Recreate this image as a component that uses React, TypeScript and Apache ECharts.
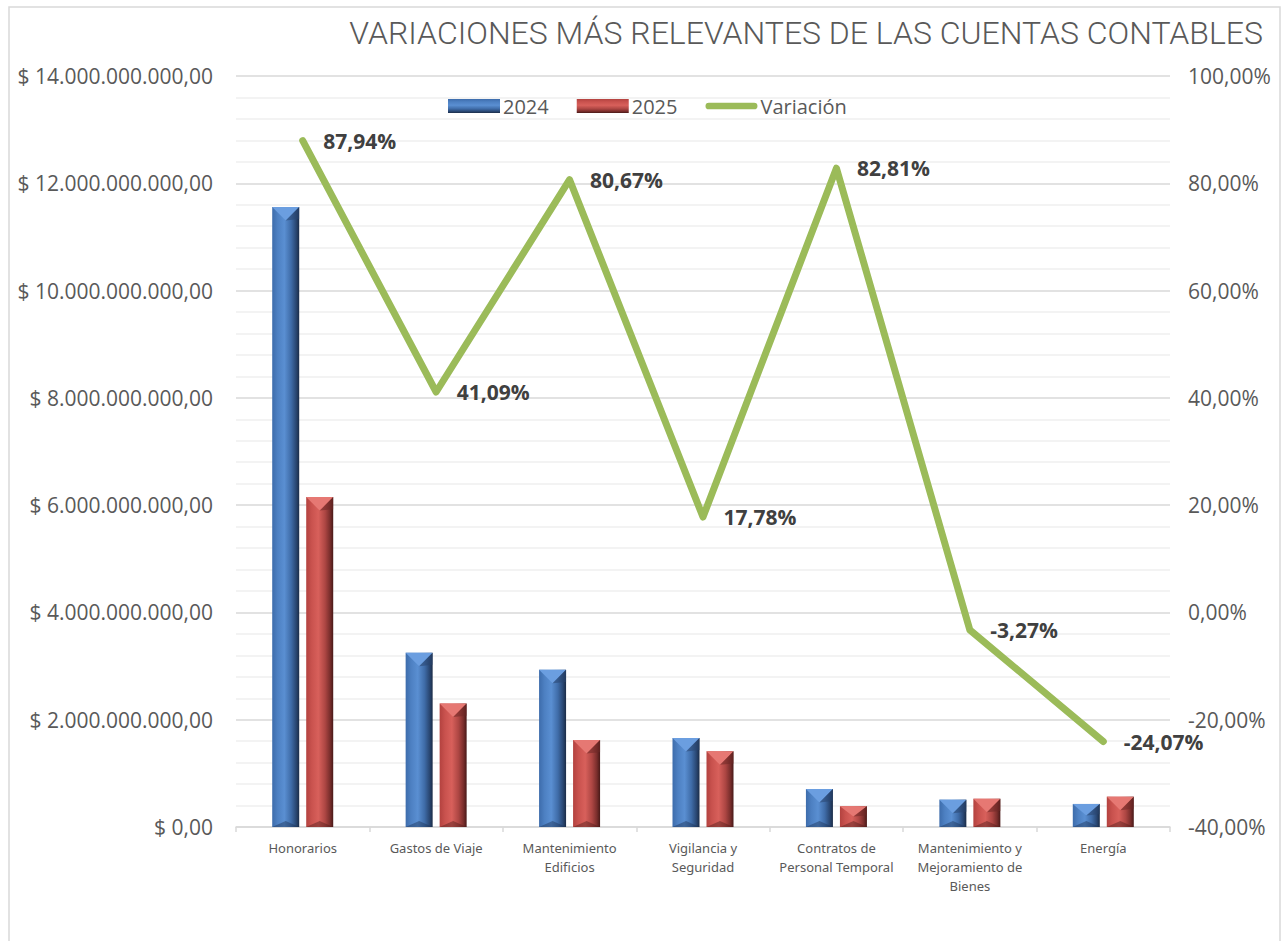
import React, { useEffect, useRef } from "react";
import * as echarts from "echarts";

const categories = [
  "Honorarios",
  "Gastos de Viaje",
  "Mantenimiento\nEdificios",
  "Vigilancia y\nSeguridad",
  "Contratos de\nPersonal Temporal",
  "Mantenimiento y\nMejoramiento de\nBienes",
  "Energía",
];
const values2024 = [11560000000, 3250000000, 2930000000, 1660000000, 710000000, 510000000, 430000000];
const values2025 = [6150000000, 2300000000, 1620000000, 1410000000, 388000000, 527000000, 566000000];
const variation = [87.94, 41.09, 80.67, 17.78, 82.81, -3.27, -24.07];

const fmtMoney = (v: number) => {
  const s = Math.round(v).toString().replace(/\B(?=(\d{3})+(?!\d))/g, ".");
  return "$ " + s + ",00";
};
const fmtPct = (v: number) => v.toFixed(2).replace(".", ",") + "%";

const BAR_W = 27;
const BAR_GAP = 7;

const grad = (stops: [number, string][], vertical = false) =>
  new echarts.graphic.LinearGradient(0, 0, vertical ? 0 : 1, vertical ? 1 : 0, stops.map(([offset, color]) => ({ offset, color })));

const blueStops: [number, string][] = [
  [0, "#3d6cab"],
  [0.2, "#4d80c2"],
  [0.45, "#5a8fd2"],
  [0.7, "#3f6ca8"],
  [0.88, "#2a4874"],
  [1, "#1b2c47"],
];
const redStops: [number, string][] = [
  [0, "#b3423f"],
  [0.2, "#c9524e"],
  [0.45, "#d8605b"],
  [0.7, "#ad4643"],
  [0.88, "#7a2e2c"],
  [1, "#481918"],
];
const blueGrad = grad(blueStops);
const redGrad = grad(redStops);
const blueLegend = grad(blueStops, true);
const redLegend = grad(redStops, true);

const bevel = (offset: number, light: string, dark: string, side: string) => (params: any, api: any) => {
  const idx = api.value(0);
  const val = api.value(1);
  const top = api.coord([idx, val]);
  const base = api.coord([idx, 0]);
  const cx = top[0] + offset;
  const w = BAR_W;
  const h = base[1] - top[1];
  const b = Math.min(w / 2, h / 2);
  const l = cx - w / 2;
  const r = cx + w / 2;
  const t = top[1];
  const bt = base[1];
  return {
    type: "group",
    children: [
      {
        type: "polygon",
        shape: { points: [[l, t], [r, t], [cx, t + b]] },
        style: { fill: light },
      },
      {
        type: "polygon",
        shape: { points: [[r, t], [cx, t + b], [r, t + b * 0.9]] },
        style: { fill: side, opacity: 0.55 },
      },
      {
        type: "polygon",
        shape: { points: [[l, bt], [r, bt], [cx, bt - Math.min(b, 6)]] },
        style: { fill: dark, opacity: 0.45 },
      },
    ],
  };
};

export default function App() {
  const ref = useRef<HTMLDivElement>(null);
  useEffect(() => {
    if (!ref.current) return;
    const chart = echarts.init(ref.current, null, { renderer: "svg" });
    const off = (BAR_W + BAR_GAP) / 2;
    chart.setOption({
      animation: false,
      backgroundColor: "#ffffff",
      textStyle: { fontFamily: "Open Sans" },
      graphic: [
        {
          type: "rect",
          shape: { x: 9, y: 7, width: 1271, height: 960 },
          style: { fill: "none", stroke: "#d9d9d9", lineWidth: 1.5 },
          silent: true,
        },
      ],
      title: {
        text: "VARIACIONES MÁS RELEVANTES DE LAS CUENTAS CONTABLES",
        right: 18,
        top: 12,
        textStyle: { fontFamily: "Roboto", fontWeight: 300, fontSize: 32, color: "#595959" },
      },
      legend: {
        left: 443,
        top: 91,
        itemGap: 28,
        itemWidth: 52,
        itemHeight: 14,
        textStyle: { fontFamily: "Open Sans", fontSize: 20, color: "#595959", padding: [0, 0, 0, -2] },
        data: [
          { name: "2024", icon: "rect", itemStyle: { color: blueLegend } },
          { name: "2025", icon: "rect", itemStyle: { color: redLegend } },
          {
            name: "Variación",
            icon: "path://M3.5,0 L50.5,0 A3.5,3.5 0 0 1 50.5,7 L3.5,7 A3.5,3.5 0 0 1 3.5,0 Z",
            itemStyle: { color: "#9bbb59" },
          },
        ],
      },
      grid: { left: 236, right: 116, top: 76, bottom: 114, containLabel: false },
      xAxis: {
        type: "category",
        data: categories,
        axisLine: { lineStyle: { color: "#d9d9d9", width: 1.5 } },
        axisTick: { show: true, length: 5, lineStyle: { color: "#d9d9d9", width: 1.5 } },
        axisLabel: {
          interval: 0,
          fontFamily: "Noto Sans",
          fontSize: 13,
          lineHeight: 19,
          color: "#595959",
          margin: 11,
        },
      },
      yAxis: [
        {
          type: "value",
          min: 0,
          max: 14000000000,
          interval: 2000000000,
          axisLine: { show: false },
          axisTick: { show: false },
          axisLabel: { formatter: fmtMoney, fontFamily: "Open Sans", fontSize: 21, color: "#595959", margin: 23 },
          splitLine: { lineStyle: { color: "#d9d9d9", width: 1.5 } },
          minorTick: { show: false, splitNumber: 5 },
          minorSplitLine: { show: true, lineStyle: { color: "#efefef", width: 1.5 } },
        },
        {
          type: "value",
          min: -40,
          max: 100,
          interval: 20,
          axisLine: { show: false },
          axisTick: { show: false },
          splitLine: { show: false },
          axisLabel: { formatter: (v: number) => fmtPct(v), fontFamily: "Open Sans", fontSize: 21, color: "#595959", margin: 18 },
        },
      ],
      series: [
        {
          name: "2024",
          type: "bar",
          data: values2024,
          barWidth: BAR_W,
          barGap: (BAR_GAP / BAR_W) * 100 + "%",
          itemStyle: { color: blueGrad },
        },
        {
          name: "2025",
          type: "bar",
          data: values2025,
          barWidth: BAR_W,
          itemStyle: { color: redGrad },
        },
        {
          name: "bevel2024",
          type: "custom",
          z: 3,
          silent: true,
          data: values2024.map((v, i) => [i, v]),
          renderItem: bevel(-off, "#6b9ee0", "#1d3456", "#2a4570"),
          encode: { x: 0, y: 1 },
        },
        {
          name: "bevel2025",
          type: "custom",
          z: 3,
          silent: true,
          data: values2025.map((v, i) => [i, v]),
          renderItem: bevel(off, "#e67873", "#4f1c1b", "#6d2826"),
          encode: { x: 0, y: 1 },
        },
        {
          name: "Variación",
          type: "line",
          yAxisIndex: 1,
          z: 4,
          data: variation,
          symbol: "circle",
          symbolSize: 1,
          showSymbol: true,
          lineStyle: { color: "#9bbb59", width: 7, cap: "round", join: "round" },
          itemStyle: { color: "#9bbb59" },
          label: {
            show: true,
            position: "right",
            distance: 20,
            formatter: (p: any) => fmtPct(p.value),
            fontFamily: "Open Sans",
            fontWeight: "bold",
            fontSize: 21,
            color: "#404040",
          },
        },
      ],
    });
    return () => chart.dispose();
  }, []);
  return <div ref={ref} style={{ position: "fixed", left: 0, top: 0, width: 1286, height: 941 }} />;
}
